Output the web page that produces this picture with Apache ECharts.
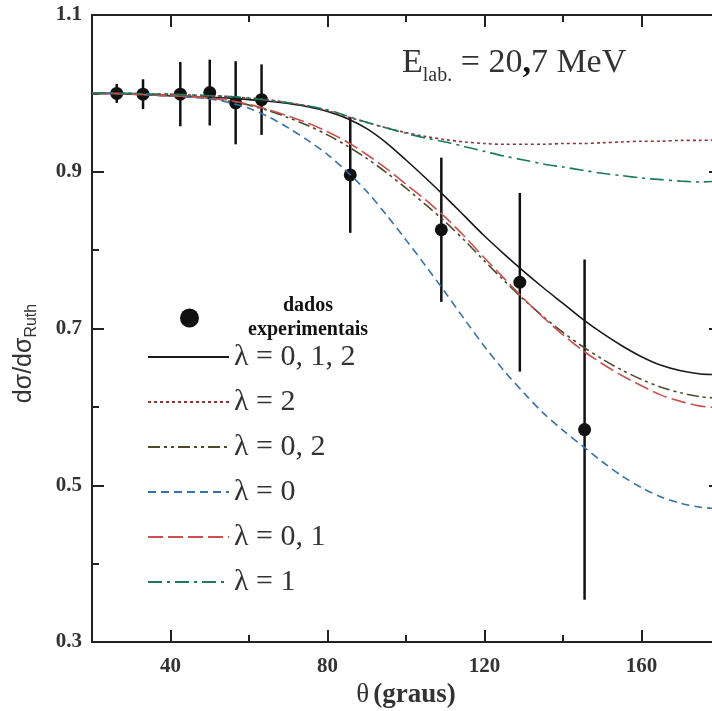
<!DOCTYPE html>
<html><head><meta charset="utf-8">
<script src="https://cdn.jsdelivr.net/npm/echarts@6/dist/echarts.min.js"></script>
<style>html,body{margin:0;padding:0;background:#fff}#c{width:712px;height:711px}</style>
</head><body><div id="c"></div>
<script>
// ---- data ----
const thetaGrid = [20,25,30,35,40,45,50,55,60,65,70,75,80,85,90,95,100,105,110,115,120,125,130,135,140,145,150,155,160,165,170,175,180];
const curveL012 = [1.000,1.000,0.999,0.998,0.997,0.996,0.995,0.994,0.992,0.990,0.987,0.983,0.977,0.968,0.955,0.937,0.915,0.892,0.868,0.843,0.818,0.795,0.773,0.752,0.732,0.712,0.694,0.678,0.664,0.653,0.646,0.642,0.641];
const curveL2   = [1.000,1.000,1.000,0.999,0.999,0.998,0.997,0.996,0.994,0.992,0.988,0.984,0.978,0.970,0.963,0.956,0.950,0.945,0.941,0.938,0.936,0.935,0.935,0.935,0.936,0.936,0.937,0.938,0.939,0.939,0.940,0.940,0.941];
const curveL02  = [1.000,1.000,0.999,0.998,0.997,0.996,0.994,0.990,0.985,0.978,0.969,0.959,0.947,0.933,0.917,0.899,0.879,0.858,0.836,0.812,0.786,0.761,0.737,0.715,0.695,0.677,0.661,0.647,0.635,0.625,0.618,0.613,0.611];
const curveL0   = [1.000,1.000,0.999,0.998,0.997,0.995,0.993,0.988,0.981,0.970,0.956,0.940,0.922,0.900,0.875,0.845,0.813,0.780,0.746,0.711,0.677,0.646,0.618,0.592,0.570,0.550,0.530,0.512,0.497,0.485,0.477,0.472,0.470];
const curveL01  = [1.000,1.000,0.999,0.998,0.997,0.996,0.994,0.991,0.986,0.979,0.971,0.962,0.951,0.938,0.922,0.904,0.884,0.864,0.842,0.817,0.790,0.764,0.738,0.714,0.692,0.672,0.655,0.640,0.627,0.615,0.607,0.601,0.599];
const curveL1   = [1.000,1.000,1.000,0.999,0.999,0.998,0.997,0.996,0.994,0.991,0.988,0.984,0.979,0.971,0.963,0.956,0.949,0.943,0.938,0.932,0.926,0.920,0.915,0.910,0.906,0.902,0.898,0.895,0.892,0.890,0.888,0.887,0.888];

const expTheta = [26.3,33.0,42.5,50.0,56.6,63.2,85.8,109.0,129.0,145.5];
const expValue = [1.000,0.999,0.999,1.001,0.988,0.992,0.896,0.826,0.759,0.571];
const expError = [0.012,0.019,0.041,0.042,0.053,0.045,0.074,0.092,0.114,0.217];

const xTickLabels = [40,80,120,160];
const xMinorTicks = [60,100,140];
const yTickLabels = [0.3,0.5,0.7,0.9,1.1];
const yMinorTicks = [0.4,0.6,0.8,1.0];

const curveNames = ['λ = 0, 1, 2','λ = 2','λ = 0, 2','λ = 0','λ = 0, 1','λ = 1'];
const expName = 'dados experimentais';

// ---- styles ----
const serif = 'Liberation Serif';
const curveData = [curveL012, curveL2, curveL02, curveL0, curveL01, curveL1];
const curveStyles = [
  {color:'#1a1a1a', type:'solid'},
  {color:'#8f3535', type:[3,3]},
  {color:'#4d4a2c', type:[12,4,3,4,3,4]},
  {color:'#3573a8', type:[8,5]},
  {color:'#c9514f', type:[15,5]},
  {color:'#1c7a5c', type:[14,5,3,5]}
];

const lineSeries = curveNames.map((n,i)=>({
  name:n, type:'line', xAxisIndex:0, yAxisIndex:0,
  data: thetaGrid.map((t,k)=>[t, curveData[i][k]]),
  smooth:0.3, symbol:'none', z:4,
  lineStyle:{color:curveStyles[i].color, type:curveStyles[i].type, width:1.6},
  itemStyle:{color:curveStyles[i].color}
}));

const errData = expTheta.map((t,i)=>[t, expValue[i]-expError[i], expValue[i]+expError[i]]);

const axisColor = '#222';
function xAx(pos, ticks, len, showLine, showLabel){
  return {type:'value', min:20, max:180, position:pos, gridIndex:0,
    axisLine:{show:showLine, onZero:false, lineStyle:{color:axisColor, width:2}},
    axisTick:{show:true, inside:true, length:len, customValues:ticks, lineStyle:{color:axisColor, width:2}},
    axisLabel:{show:showLabel, customValues:ticks, fontFamily:serif, fontWeight:'bold', fontSize:21, color:'#333', margin:14},
    splitLine:{show:false}};
}
function yAx(pos, ticks, len, showLine, showLabel){
  return {type:'value', min:0.3, max:1.1, position:pos, gridIndex:0,
    axisLine:{show:showLine, onZero:false, lineStyle:{color:axisColor, width:2}},
    axisTick:{show:true, inside:true, length:len, customValues:ticks, lineStyle:{color:axisColor, width:2}},
    axisLabel:{show:showLabel, customValues:ticks, formatter:v=>Number(v).toFixed(1), fontFamily:serif, fontWeight:'bold', fontSize:21, color:'#333', margin:10},
    splitLine:{show:false}};
}
const xMain = xAx('bottom', xTickLabels, 12, true, true);
xMain.name = '{t|θ}{g|(graus)}';
xMain.nameLocation = 'middle';
xMain.nameGap = 35;
xMain.nameTextStyle = {rich:{
  t:{fontFamily:serif, fontSize:27, fontWeight:'normal', color:'#333', padding:[0,4,0,0]},
  g:{fontFamily:serif, fontSize:27, fontWeight:'bold', color:'#333'}
}};
const yMain = yAx('left', yTickLabels, 12, true, true);
yMain.name = '{m|dσ/dσ}{s|Ruth}';
yMain.nameLocation = 'middle';
yMain.nameGap = 52;
yMain.nameRotate = 90;
yMain.nameTextStyle = {padding:[0,50,0,0], rich:{
  m:{fontFamily:'Liberation Sans', fontSize:25, color:'#333', lineHeight:32},
  s:{fontFamily:'Liberation Sans', fontSize:16, color:'#333', lineHeight:18, verticalAlign:'bottom'}
}};

const option = {
  animation:false,
  backgroundColor:'#fff',
  grid:{left:92, right:-8, top:15, bottom:69, containLabel:false, outerBoundsMode:'none'},
  title:{
    text:'{m|E}{s|lab.}{m| = 20}{b|,}{m|7 MeV}',
    left:402, top:40, padding:0,
    textStyle:{fontWeight:'normal', rich:{
      m:{fontFamily:serif, fontSize:34, fontWeight:'normal', color:'#333', lineHeight:46},
      s:{fontFamily:serif, fontSize:20, fontWeight:'normal', color:'#333', lineHeight:20, verticalAlign:'bottom'},
      b:{fontFamily:serif, fontSize:34, fontWeight:'bold', color:'#111', lineHeight:46}
    }}
  },
  legend:[
    {data:[{name:expName, icon:'circle'}], left:180, top:296, padding:0, orient:'vertical',
     itemWidth:19, itemHeight:19, selectedMode:false,
     formatter:()=> '{a|dados}\n{b|experimentais}',
     textStyle:{rich:{
       a:{fontFamily:serif, fontWeight:'bold', fontSize:20, color:'#111', lineHeight:24, padding:[0,0,0,79]},
       b:{fontFamily:serif, fontWeight:'bold', fontSize:20, color:'#111', lineHeight:24, padding:[0,0,0,44]}
     }}},
    {data:curveNames, left:147, top:342, padding:0, orient:'vertical',
     itemWidth:81, itemHeight:2, itemGap:15, selectedMode:false,
     itemStyle:{opacity:0},
     textStyle:{fontFamily:serif, fontSize:30, color:'#333', lineHeight:30}}
  ],
  xAxis:[
    xMain,
    xAx('bottom', xMinorTicks, 7, false, false),
    xAx('top', xTickLabels, 12, true, false),
    xAx('top', xMinorTicks, 7, false, false)
  ],
  yAxis:[
    yMain,
    yAx('left', yMinorTicks, 7, false, false),
    yAx('right', yTickLabels, 11, true, false)
  ],
  series:[
    {name:'erros', type:'custom', xAxisIndex:0, yAxisIndex:0, z:2,
     data:errData, encode:{x:0, y:[1,2]},
     renderItem:(params, api)=>{
       const p1 = api.coord([api.value(0), api.value(1)]);
       const p2 = api.coord([api.value(0), api.value(2)]);
       return {type:'line', shape:{x1:p1[0], y1:p1[1], x2:p2[0], y2:p2[1]},
               style:{stroke:'#111', lineWidth:2.5}};
     }},
    {name:expName, type:'scatter', xAxisIndex:0, yAxisIndex:0, z:3,
     data:expTheta.map((t,i)=>[t, expValue[i]]),
     symbol:'circle', symbolSize:13, itemStyle:{color:'#111', opacity:1}},
    ...lineSeries
  ]
};
const chart = echarts.init(document.getElementById('c'), null, {renderer:'canvas'});
chart.setOption(option);
</script></body></html>
